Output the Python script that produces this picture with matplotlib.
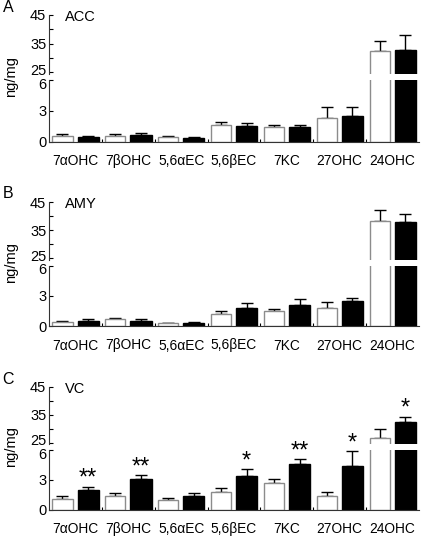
import matplotlib
matplotlib.use('Agg')
import matplotlib.pyplot as plt
import matplotlib.transforms as mtransforms
import numpy as np

plt.rcParams['font.family'] = ['Liberation Sans', 'DejaVu Sans']

categories = ['7\u03b1OHC', '7\u03b2OHC', '5,6\u03b1EC', '5,6\u03b2EC', '7KC', '27OHC', '24OHC']

# panel A - ACC
acc_ctrl = [0.54, 0.54, 0.40, 1.65, 1.45, 2.26, 32.6]
acc_ctrl_err = [0.17, 0.17, 0.11, 0.24, 0.17, 1.08, 3.2]
acc_treat = [0.47, 0.67, 0.34, 1.48, 1.42, 2.53, 32.8]
acc_treat_err = [0.07, 0.14, 0.10, 0.31, 0.20, 0.87, 5.3]

# panel B - AMY
amy_ctrl = [0.41, 0.65, 0.27, 1.20, 1.54, 1.84, 38.2]
amy_ctrl_err = [0.10, 0.10, 0.07, 0.27, 0.17, 0.52, 3.9]
amy_treat = [0.51, 0.48, 0.34, 1.75, 2.06, 2.45, 38.0]
amy_treat_err = [0.21, 0.17, 0.07, 0.58, 0.65, 0.34, 2.6]

# panel C - VC
vc_ctrl = [1.06, 1.38, 0.95, 1.74, 2.66, 1.38, 26.5]
vc_ctrl_err = [0.28, 0.25, 0.26, 0.41, 0.41, 0.39, 3.3]
vc_treat = [2.01, 3.10, 1.36, 3.38, 4.60, 4.38, 32.4]
vc_treat_err = [0.29, 0.38, 0.31, 0.71, 0.45, 1.52, 1.8]
vc_stars = ['**', '**', '', '*', '**', '*', '*']

W, H = 424, 538


def px_axes(fig, top, bottom, left=49, right=419):
    return fig.add_axes([left / W, 1 - bottom / H, (right - left) / W, (bottom - top) / H])


def draw_bars(ax, ctrl, ctrl_err, treat, treat_err):
    x = np.arange(len(categories)) + 0.5
    ax.bar(x - 0.245, ctrl, width=0.38, color='white', edgecolor='#8c8c8c', linewidth=1.0, zorder=2)
    ax.bar(x + 0.24, treat, width=0.40, color='black', edgecolor='black', linewidth=1.0, zorder=2)
    ax.errorbar(x - 0.245, ctrl, yerr=[np.zeros(len(ctrl)), ctrl_err], fmt='none',
                ecolor='black', elinewidth=1.0, capsize=4, capthick=1.0, zorder=1)
    ax.errorbar(x + 0.24, treat, yerr=[np.zeros(len(treat)), treat_err], fmt='none',
                ecolor='black', elinewidth=1.0, capsize=4, capthick=1.0, zorder=1)


def shift_label(fig, label, dy_px):
    label.set_transform(label.get_transform() +
                        mtransforms.ScaledTranslation(0, dy_px / 100, fig.dpi_scale_trans))


def draw_panel(fig, top, base, letter, region, ctrl, ctrl_err, treat, treat_err, stars=None):
    total = base - top
    upper_bot = top + total * 0.465
    lower_top = upper_bot + total * 0.05
    ax_up = px_axes(fig, top, upper_bot)
    ax_lo = px_axes(fig, lower_top, base)

    for ax in (ax_up, ax_lo):
        draw_bars(ax, ctrl, ctrl_err, treat, treat_err)
        ax.set_xlim(0, 7)
        ax.spines['top'].set_visible(False)
        ax.spines['right'].set_visible(False)
        ax.spines['left'].set_color('#333333')
        ax.tick_params(axis='y', direction='in', length=3, width=0.8, pad=2, labelsize=10.5)

    ax_up.set_ylim(24.5, 45)
    ax_up.set_yticks([25, 35, 45])
    ax_up.set_yticks([30, 40], minor=True)
    ax_up.tick_params(axis='y', which='minor', direction='in', length=3, width=0.8)
    ax_up.spines['bottom'].set_visible(False)
    ax_up.set_xticks([])

    ax_lo.set_ylim(0, 6)
    ax_lo.set_yticks([0, 3, 6])
    ax_lo.spines['bottom'].set_color('#333333')
    ax_lo.set_xticks(np.arange(len(categories)) + 0.5)
    ax_lo.set_xticklabels(categories)
    ax_lo.set_xticks(np.arange(1, 7), minor=True)
    ax_lo.tick_params(axis='x', which='major', length=0, pad=9, labelsize=9.9)
    ax_lo.tick_params(axis='x', which='minor', direction='in', length=2, width=0.8)

    # keep the two labels at the break apart
    shift_label(fig, ax_up.get_yticklabels()[0], 3)
    shift_label(fig, ax_lo.get_yticklabels()[-1], -3)

    ax_up.text(0.3, 44.2, region, fontsize=10.5, ha='left', va='center')
    fig.text(8 / W, 1 - (top - 8) / H, letter, fontsize=11.5, ha='center', va='center')
    fig.text(11 / W, 1 - (upper_bot + 3) / H, 'ng/mg', fontsize=10.5, rotation=90,
             ha='center', va='center')

    if stars is not None:
        x = np.arange(len(categories)) + 0.5 + 0.24
        for i, s in enumerate(stars):
            if not s:
                continue
            top_val = treat[i] + treat_err[i]
            ax = ax_up if top_val > 6 else ax_lo
            off = 3.2 if ax is ax_up else 0.8
            ax.text(x[i], top_val + off, s, fontsize=17, ha='center', va='center')


fig = plt.figure(figsize=(W / 100, H / 100), dpi=100)
draw_panel(fig, 15, 141.5, 'A', 'ACC', acc_ctrl, acc_ctrl_err, acc_treat, acc_treat_err)
draw_panel(fig, 202, 326, 'B', 'AMY', amy_ctrl, amy_ctrl_err, amy_treat, amy_treat_err)
draw_panel(fig, 387, 509.5, 'C', 'VC', vc_ctrl, vc_ctrl_err, vc_treat, vc_treat_err, vc_stars)
fig.savefig('out.png', dpi=100)
